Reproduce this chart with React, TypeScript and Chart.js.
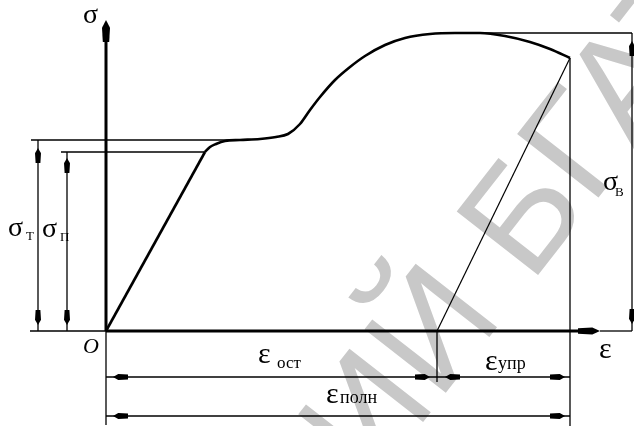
import React, { useEffect, useRef } from "react";
import { Chart, registerables } from "chart.js";

Chart.register(...registerables);

// Schematic stress–strain diagram (arbitrary units)
const elasticStrain = [0, 99];
const elasticStress = [0, 179];
const hardeningStrain = [99, 104, 110, 119, 134, 154, 170, 182, 194, 204, 214, 229, 244, 259, 279, 299, 324, 349, 374, 399, 424, 444, 464];
const hardeningStress = [179, 184, 187, 190, 191, 192, 194, 197, 207, 221, 234, 251, 264, 275, 286, 293, 297, 298, 298, 295, 289, 282, 273];
const sigmaP = 179; // proportional limit σп
const sigmaT = 191; // yield stress σт
const sigmaB = 298; // ultimate strength σв
const epsOst = 331; // residual strain
const epsPoln = 464; // total strain
const xRange = [-106, 528];
const yRange = [-95, 331];
const watermarkLeft = "РЕПОЗИТОРИЙ";
const watermarkRight = "БГАТУ";

const SERIF = "'Liberation Serif', 'DejaVu Serif', serif";

const diagramPlugin = {
  id: "diagram",
  beforeDatasetsDraw(chart: any) {
    const ctx = chart.ctx as CanvasRenderingContext2D;
    ctx.save();
    ctx.translate(475, 268);
    ctx.rotate((-52 * Math.PI) / 180);
    const size = 150;
    ctx.font = `${size}px 'Liberation Sans', Arial, sans-serif`;
    ctx.fillStyle = "#c8c8c8";
    const sp = ctx.measureText(" ").width;
    ctx.textBaseline = "alphabetic";
    const off = 0.36 * size;
    ctx.textAlign = "right";
    ctx.fillText(watermarkLeft, -sp / 2, off);
    ctx.textAlign = "left";
    ctx.fillText(watermarkRight, sp / 2, off);
    ctx.restore();
  },
  afterDatasetsDraw(chart: any) {
    const ctx = chart.ctx as CanvasRenderingContext2D;
    const X = (v: number) => chart.scales.x.getPixelForValue(v);
    const Y = (v: number) => chart.scales.y.getPixelForValue(v);
    const ox = X(0);
    const oy = Y(0);

    const line = (x1: number, y1: number, x2: number, y2: number, w = 1.3) => {
      ctx.save();
      ctx.strokeStyle = "#000";
      ctx.lineWidth = w;
      ctx.beginPath();
      ctx.moveTo(x1, y1);
      ctx.lineTo(x2, y2);
      ctx.stroke();
      ctx.restore();
    };
    // arrow with tip at (tx,ty), pointing in direction (dx,dy)
    const arrow = (tx: number, ty: number, dx: number, dy: number, len = 15, hw = 3) => {
      const px = -dy, py = dx;
      const pt = (a: number, b: number) => [tx - dx * a + px * b, ty - dy * a + py * b];
      const pts = [pt(0, 0), pt(len * 0.35, hw), pt(len, hw * 0.8), pt(len, -hw * 0.8), pt(len * 0.35, -hw)];
      ctx.save();
      ctx.fillStyle = "#000";
      ctx.beginPath();
      ctx.moveTo(pts[0][0], pts[0][1]);
      for (let i = 1; i < pts.length; i++) ctx.lineTo(pts[i][0], pts[i][1]);
      ctx.closePath();
      ctx.fill();
      ctx.restore();
    };
    const text = (s: string, x: number, y: number, font: string) => {
      ctx.save();
      ctx.fillStyle = "#000";
      ctx.font = font;
      ctx.textAlign = "left";
      ctx.textBaseline = "alphabetic";
      ctx.fillText(s, x, y);
      ctx.restore();
    };

    const yTop = Y(sigmaB) - 13;
    const xEnd = X(epsPoln);
    const xOst = X(epsOst);
    const xAxisTip = xEnd + 30;
    const xRight = xEnd + 62;

    // axes
    line(ox, oy, ox, yTop + 10, 3);
    arrow(ox, yTop, 0, -1, 22, 4);
    line(ox, oy, ox, oy + 94, 1.3);
    line(ox, oy, xAxisTip - 10, oy, 3);
    arrow(xAxisTip, oy, 1, 0, 22, 3.5);
    line(xAxisTip, oy, xRight, oy, 1.3);
    line(ox - 76, oy, ox, oy, 1.3);

    // stress levels
    const yT = Y(sigmaT);
    const yP = Y(sigmaP);
    const yB = Y(sigmaB);
    line(ox - 75, yT, X(125), yT, 1.3);
    line(ox - 45, yP, X(elasticStrain[1]), yP, 1.3);
    line(X(339), yB, xRight, yB, 1.3);

    // vertical dimension lines
    const xT = ox - 68;
    const xP = ox - 39;
    line(xT, yT, xT, oy, 1.3);
    arrow(xT, yT + 8, 0, -1);
    arrow(xT, oy - 6, 0, 1);
    line(xP, yP, xP, oy, 1.3);
    arrow(xP, yP + 6, 0, -1);
    arrow(xP, oy - 6, 0, 1);
    line(xRight, yB, xRight, oy, 1.3);
    arrow(xRight, yB + 8, 0, -1);
    arrow(xRight, oy - 7, 0, 1);

    // extension lines
    line(xEnd, Y(hardeningStress[hardeningStress.length - 1]), xEnd, oy + 95, 1.3);
    line(xOst, oy, xOst, oy + 51, 1.3);

    // horizontal dimension lines
    const yd1 = oy + 46;
    const yd2 = oy + 85;
    line(ox, yd1, xEnd, yd1, 1.3);
    arrow(ox + 7, yd1, -1, 0);
    arrow(xOst - 7, yd1, 1, 0);
    arrow(xOst + 8, yd1, -1, 0);
    arrow(xEnd - 5, yd1, 1, 0);
    line(ox, yd2, xEnd, yd2, 1.3);
    arrow(ox + 7, yd2, -1, 0);
    arrow(xEnd - 5, yd2, 1, 0);

    // labels
    text("σ", ox - 23, yTop + 3, `28px ${SERIF}`);
    text("O", ox - 23, oy + 22, `italic 22px ${SERIF}`);
    text("ε", xAxisTip - 1, oy + 27, `30px ${SERIF}`);
    text("σ", 8, 236, `28px ${SERIF}`);
    text("Т", 26, 240, `13px ${SERIF}`);
    text("σ", 42, 237, `28px ${SERIF}`);
    text("П", 60, 241, `13px ${SERIF}`);
    text("σ", xRight - 29, 190, `28px ${SERIF}`);
    text("В", xRight - 17, 196, `13px ${SERIF}`);
    text("ε", 258, yd1 - 14, `30px ${SERIF}`);
    text("ост", 277, yd1 - 9, `17px ${SERIF}`);
    text("ε", 485, yd1 - 7, `30px ${SERIF}`);
    text("упр", 498, yd1 - 8, `18px ${SERIF}`);
    text("ε", 326, yd2 - 13, `30px ${SERIF}`);
    text("полн", 340, yd2 - 13, `18px ${SERIF}`);
  },
};

export default function App() {
  const ref = useRef<HTMLCanvasElement>(null);
  useEffect(() => {
    const canvas = ref.current;
    if (!canvas) return;
    const chart = new Chart(canvas, {
      type: "scatter",
      data: {
        datasets: [
          {
            label: "elastic",
            data: elasticStrain.map((x, i) => ({ x, y: elasticStress[i] })),
            showLine: true,
            borderColor: "#000",
            borderWidth: 2.6,
            pointRadius: 0,
            tension: 0,
          },
          {
            label: "hardening",
            data: hardeningStrain.map((x, i) => ({ x, y: hardeningStress[i] })),
            showLine: true,
            borderColor: "#000",
            borderWidth: 2.6,
            pointRadius: 0,
            cubicInterpolationMode: "monotone",
          },
          {
            label: "unloading",
            data: [
              { x: epsPoln, y: hardeningStress[hardeningStress.length - 1] },
              { x: epsOst, y: 0 },
            ],
            showLine: true,
            borderColor: "#000",
            borderWidth: 1.2,
            pointRadius: 0,
          },
        ],
      },
      options: {
        responsive: false,
        animation: false,
        layout: { padding: 0 },
        plugins: { legend: { display: false }, tooltip: { enabled: false } },
        scales: {
          x: { type: "linear", min: xRange[0], max: xRange[1], display: false },
          y: { type: "linear", min: yRange[0], max: yRange[1], display: false },
        },
      },
      plugins: [diagramPlugin],
    } as any);
    return () => chart.destroy();
  }, []);
  return (
    <div style={{ position: "absolute", left: 0, top: 0, width: 634, height: 426, background: "#fff" }}>
      <canvas ref={ref} width={634} height={426} style={{ display: "block" }} />
    </div>
  );
}
